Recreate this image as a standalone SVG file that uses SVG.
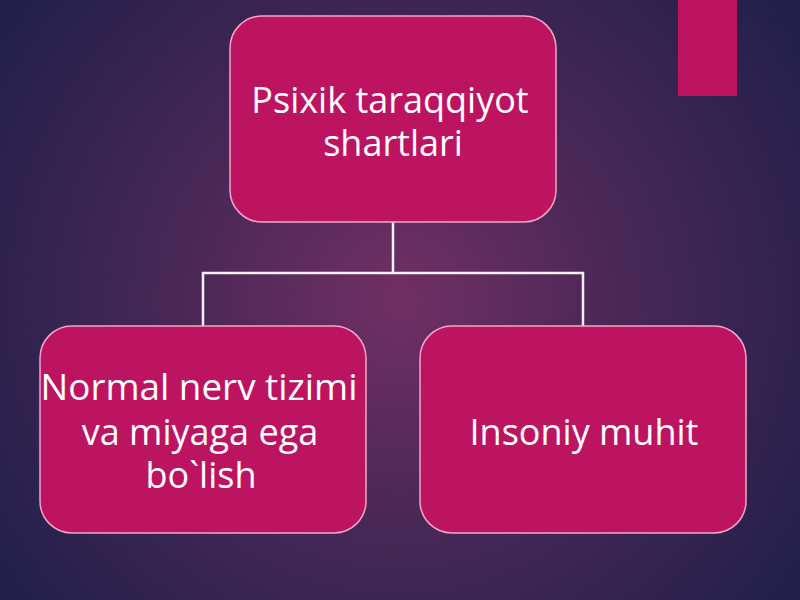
<svg xmlns="http://www.w3.org/2000/svg" width="800" height="600" viewBox="0 0 800 600">
<defs>
<radialGradient id="bg" cx="400" cy="300" r="480" gradientUnits="userSpaceOnUse">
<stop offset="0" stop-color="#712f64"/>
<stop offset="0.45" stop-color="#4a2856"/>
<stop offset="1" stop-color="#22204a"/>
</radialGradient>
<style>
.box{fill:#bd1461;stroke:#f2a6cc;stroke-width:1.5}
.lbl{font-family:"Open Sans","Noto Sans",sans-serif;font-size:36px;fill:#ffffff;text-anchor:middle}
.con{fill:none;stroke:#f4eef6;stroke-width:2.5}
</style>
</defs>
<rect width="800" height="600" fill="url(#bg)"/>
<rect x="678" y="0" width="59" height="96" fill="#bd1461"/>
<g id="connectors">
<path class="con" d="M393 222 V273 M203 326 V273 H583 V326"/>
</g>
<g id="root">
<rect class="box" x="230" y="16" width="326" height="206" rx="32"/>
<text class="lbl" x="390" y="113">Psixik taraqqiyot</text>
<text class="lbl" x="393" y="156">shartlari</text>
</g>
<g id="left">
<rect class="box" x="40" y="326" width="326" height="207" rx="32"/>
<text class="lbl" x="199" y="400" textLength="317" lengthAdjust="spacingAndGlyphs">Normal nerv tizimi</text>
<text class="lbl" x="200" y="445">va miyaga ega</text>
<text class="lbl" x="201" y="488">bo`lish</text>
</g>
<g id="right">
<rect class="box" x="420" y="326" width="326" height="207" rx="32"/>
<text class="lbl" x="584" y="445">Insoniy muhit</text>
</g>
</svg>
